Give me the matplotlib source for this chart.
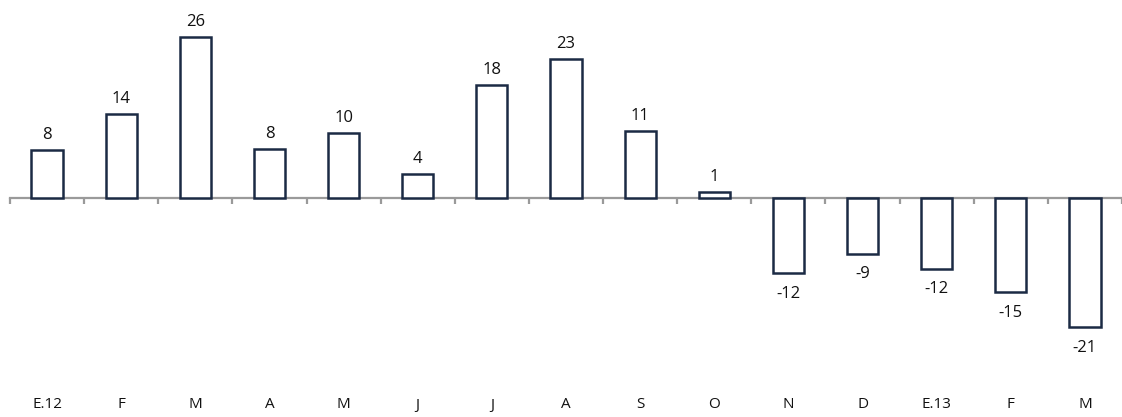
import matplotlib.pyplot as plt

months = ["E.12", "F", "M", "A", "M", "J", "J", "A", "S", "O", "N", "D", "E.13", "F", "M"]
heights = [8.0, 14.0, 26.8, 8.1, 10.8, 4.0, 18.8, 23.2, 11.2, 1.0, -12.5, -9.3, -11.8, -15.7, -21.5]
labels = ["8", "14", "26", "8", "10", "4", "18", "23", "11", "1", "-12", "-9", "-12", "-15", "-21"]

plt.rcParams['font.family'] = ['Open Sans', 'DejaVu Sans']

fig = plt.figure(figsize=(11.22, 4.17), dpi=100)
ax = fig.add_axes([10 / 1122, 0, 1 - 10 / 1122, 1])

x = list(range(len(months)))
ax.bar(x, heights, width=0.42, color="white", edgecolor="#1b2a44", linewidth=1.8, zorder=3)

for xi, h, lab in zip(x, heights, labels):
    if h >= 0:
        ax.annotate(lab, (xi, h), xytext=(0, 5), textcoords="offset points",
                    ha="center", va="bottom", fontsize=12, color="#111111")
    else:
        ax.annotate(lab, (xi, h), xytext=(0, -9), textcoords="offset points",
                    ha="center", va="top", fontsize=12, color="#111111")

# month names along the bottom
for xi, m in zip(x, months):
    ax.text(xi, -34.5, m, ha="center", va="center", fontsize=11, color="#111111")

ax.set_xlim(-0.5, 14.32)
ax.set_ylim(-36.5, 33)

for s in ["top", "right", "left"]:
    ax.spines[s].set_visible(False)
ax.spines["bottom"].set_position(("data", 0))
ax.spines["bottom"].set_color("#9a9a9a")
ax.spines["bottom"].set_linewidth(1.6)
ax.spines["bottom"].set_zorder(2)

ax.set_xticks([i - 0.5 for i in range(len(months) + 1)])
ax.set_xticklabels([])
ax.tick_params(axis="x", direction="out", length=4, width=1.6, color="#9a9a9a")
ax.set_yticks([])

fig.savefig("out.png", dpi=100)
